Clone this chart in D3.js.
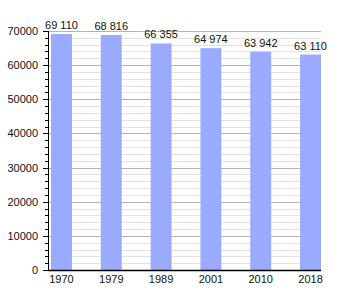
<!DOCTYPE html>
<html>
<head>
<meta charset="utf-8">
<script src="https://cdn.jsdelivr.net/npm/d3@7"></script>
<style>
  body { margin: 0; background: #fff; }
  text { font-family: "Liberation Sans", Arial, sans-serif; font-size: 11px; fill: #111; }
</style>
</head>
<body>
<svg id="chart" width="350" height="300"></svg>
<script>
// census years and population
var years = ["1970", "1979", "1989", "2001", "2010", "2018"];
var population = [69110, 68816, 66355, 64974, 63942, 63110];
var labels = ["69 110", "68 816", "66 355", "64 974", "63 942", "63 110"];
var yTicks = [0, 10000, 20000, 30000, 40000, 50000, 60000, 70000];

var plotLeft = 48, plotRight = 321, plotTop = 31, plotBottom = 270;

var svg = d3.select("svg#chart");

var x = d3.scaleBand()
    .domain(years)
    .range([plotLeft + 3, plotRight])
    .paddingInner(0.58)
    .paddingOuter(0)
    .align(0);

var y = d3.scaleLinear()
    .domain([0, 70000])
    .range([plotBottom, plotTop]);

// minor grid every 2000
var minor = d3.range(0, 70001, 2000);
svg.append("g")
    .selectAll("line")
    .data(minor.filter(d => d % 10000 != 0))
    .join("line")
    .attr("x1", plotLeft).attr("x2", plotRight)
    .attr("y1", d => Math.round(y(d)) + 0.5)
    .attr("y2", d => Math.round(y(d)) + 0.5)
    .attr("stroke", "#e2e2e2");

// major grid
svg.append("g")
    .selectAll("line")
    .data(yTicks.slice(1))
    .join("line")
    .attr("x1", plotLeft).attr("x2", plotRight)
    .attr("y1", d => Math.round(y(d)) + 0.5)
    .attr("y2", d => Math.round(y(d)) + 0.5)
    .attr("stroke", "#b4b4b4");

// bars
svg.append("g")
    .selectAll("rect")
    .data(population)
    .join("rect")
    .attr("x", (d, i) => x(years[i]))
    .attr("width", x.bandwidth())
    .attr("y", d => y(d))
    .attr("height", d => plotBottom - y(d))
    .attr("fill", "#99aaff");

// value labels
svg.append("g")
    .selectAll("text")
    .data(population)
    .join("text")
    .attr("x", (d, i) => x(years[i]) + x.bandwidth() / 2)
    .attr("y", d => y(d) - 5)
    .attr("text-anchor", "middle")
    .text((d, i) => labels[i]);

// y axis ticks (minor)
svg.append("g")
    .selectAll("line")
    .data(minor)
    .join("line")
    .attr("x1", plotLeft - 3).attr("x2", plotLeft)
    .attr("y1", d => Math.round(y(d)) + 0.5)
    .attr("y2", d => Math.round(y(d)) + 0.5)
    .attr("stroke", "#000");

svg.append("g")
    .selectAll("line")
    .data(yTicks)
    .join("line")
    .attr("x1", plotLeft - 5).attr("x2", plotLeft)
    .attr("y1", d => Math.round(y(d)) + 0.5)
    .attr("y2", d => Math.round(y(d)) + 0.5)
    .attr("stroke", "#000");

svg.append("g")
    .selectAll("text")
    .data(yTicks)
    .join("text")
    .attr("x", plotLeft - 10)
    .attr("y", d => y(d) + 4)
    .attr("text-anchor", "end")
    .text(d => d);

// axis lines
svg.append("line")
    .attr("x1", plotLeft + 0.5).attr("x2", plotLeft + 0.5)
    .attr("y1", plotTop).attr("y2", plotBottom)
    .attr("stroke", "#000");

svg.append("line")
    .attr("x1", plotLeft).attr("x2", plotRight)
    .attr("y1", plotBottom + 0.5).attr("y2", plotBottom + 0.5)
    .attr("stroke", "#000")
    .attr("stroke-width", 1.5);

// x labels
svg.append("g")
    .selectAll("text")
    .data(years)
    .join("text")
    .attr("x", d => x(d) + x.bandwidth() / 2)
    .attr("y", plotBottom + 13)
    .attr("text-anchor", "middle")
    .text(d => d);
</script>
</body>
</html>
